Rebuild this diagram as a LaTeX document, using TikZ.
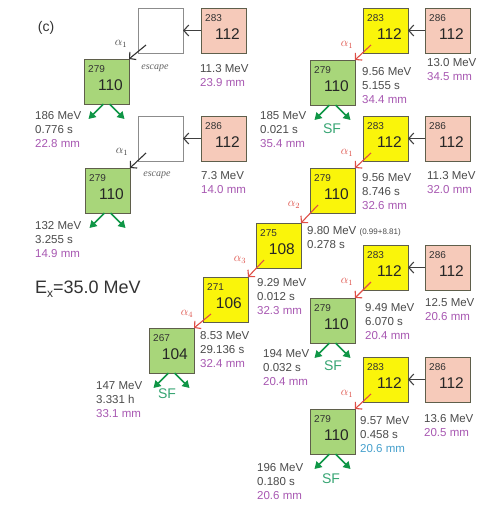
\documentclass[tikz,border=0pt]{standalone}
\usepackage{fontspec}
\setmainfont{Liberation Sans}
\newfontfamily\escfont{Liberation Serif}
\usetikzlibrary{arrows.meta}
\definecolor{nucY}{RGB}{250,245,10}
\definecolor{nucG}{RGB}{168,214,122}
\definecolor{nucP}{RGB}{246,202,186}
\definecolor{edgeC}{RGB}{95,95,75}
\definecolor{txtC}{RGB}{75,75,75}
\definecolor{purp}{RGB}{168,88,178}
\definecolor{cyanC}{RGB}{70,160,205}
\definecolor{alphaC}{RGB}{222,78,70}
\definecolor{sfC}{RGB}{15,150,70}
\definecolor{sfT}{RGB}{55,165,115}
\tikzset{
 nbox/.style={draw=edgeC, line width=0.9pt, minimum width=45pt, minimum height=45pt, inner sep=0pt, outer sep=0pt, anchor=north west},
 wbox/.style={nbox, draw=black!45, fill=white},
 anum/.style={font=\fontsize{10}{10}\selectfont, text=black!80, inner sep=0pt, anchor=base west},
 znum/.style={font=\fontsize{15.5}{15.5}\selectfont, text=black!85, inner sep=0pt, anchor=base east},
 info/.style={font=\fontsize{11.5}{14}\selectfont, text=txtC, align=left, inner sep=0pt, anchor=north west},
 feed/.style={draw=black!75, line width=1.1pt, -{Straight Barb[length=5pt,width=11pt]}},
 alph/.style={draw=alphaC, line width=1.1pt, -{Straight Barb[length=4.5pt,width=10pt]}},
 balph/.style={draw=black!80, line width=1.1pt, -{Straight Barb[length=4.5pt,width=10pt]}},
 sfar/.style={draw=sfC, line width=1.6pt, -{Triangle[length=7pt,width=8pt]}},
 alab/.style={text=alphaC, font=\fontsize{12}{12}\selectfont, inner sep=0pt},
 blab/.style={alab, text=black!75},
 sft/.style={text=sfT, font=\fontsize{14}{14}\selectfont, inner sep=0pt},
 esc/.style={text=black!60, font=\escfont\itshape\fontsize{10}{10}\selectfont, inner sep=0pt},
}
\newcommand{\nuc}[5]{%
 \node[nbox, fill=#3] (#1) at (#2) {};
 \node[anum] (#1A) at ([shift={(4pt,-13pt)}]#1.north west) {#4};
 \node[znum] (#1Z) at ([shift={(-6pt,14pt)}]#1.south east) {#5};
}
\newcommand{\alphaarrow}[4]{% from, to, label name, subscript
 \draw[alph] ([shift={(8pt,8pt)}]#1.south west) -- (#2.north east);
 \node[alab] (#3) at ([shift={(-16pt,8pt)}]#1.south west) {$\alpha_{#4}$};
}
\newcommand{\sfarrows}[1]{%
 \draw[sfar] ([xshift=-3pt]#1.south) -- ([shift={(-18pt,-15pt)}]#1.south);
 \draw[sfar] ([xshift=3pt]#1.south) -- ([shift={(18pt,-15pt)}]#1.south);
}
\begin{document}
\begin{tikzpicture}[x=1pt,y=-1pt]
\fill[white] (0,0) rectangle (491,512);
\useasboundingbox (0,0) rectangle (491,512);

\node[font=\fontsize{14}{14}\selectfont, text=black!80, inner sep=0pt] (lab) at (46,28) {(c)};
\node[font=\fontsize{18}{18}\selectfont, text=black!80, inner sep=0pt, anchor=west] (ex) at (35,289) {E\raisebox{-4.5pt}{\fontsize{12}{12}\selectfont x}=35.0 MeV};

% ---------- left column ----------
\node[wbox] (W1) at (138,8) {};
\nuc{P1}{201,8}{nucP}{283}{112}
\nuc{G1}{84,59}{nucG}{279}{110}
\draw[feed] (P1.west) -- (W1.east);
\draw[balph] ([shift={(8pt,8pt)}]W1.south west) -- (G1.north east);
\node[blab] (aL1) at ([shift={(-17pt,9pt)}]W1.south west) {$\alpha_1$};
\node[esc] (e1) at (155,68) {escape};
\node[info] (iP1) at (200,64) {11.3 MeV\\\textcolor{purp}{23.9 mm}};
\sfarrows{G1}
\node[info] (iG1) at (35,111) {186 MeV\\0.776 s\\\textcolor{purp}{22.8 mm}};

\node[wbox] (W2) at (138,116) {};
\nuc{P2}{201,116}{nucP}{286}{112}
\nuc{G2}{85,168}{nucG}{279}{110}
\draw[feed] (P2.west) -- (W2.east);
\draw[balph] ([shift={(8pt,8pt)}]W2.south west) -- (G2.north east);
\node[blab] (aL2) at ([shift={(-16pt,9pt)}]W2.south west) {$\alpha_1$};
\node[esc] (e2) at (157,175) {escape};
\node[info] (iP2) at (201,171) {7.3 MeV\\\textcolor{purp}{14.0 mm}};
\sfarrows{G2}
\node[info] (iG2) at (35,221) {132 MeV\\3.255 s\\\textcolor{purp}{14.9 mm}};

% ---------- right column, chain 1 ----------
\nuc{Y1}{363,8}{nucY}{283}{112}
\nuc{P3}{425,8}{nucP}{286}{112}
\nuc{G3}{310,60}{nucG}{279}{110}
\draw[feed] (P3.west) -- (Y1.east);
\alphaarrow{Y1}{G3}{a1}{1}
\node[info] (iG3) at (362,67) {9.56 MeV\\5.155 s\\\textcolor{purp}{34.4 mm}};
\node[info] (iP3) at (427,58) {13.0 MeV\\\textcolor{purp}{34.5 mm}};
\sfarrows{G3}
\node[info] (iS3) at (260,111) {185 MeV\\0.021 s\\\textcolor{purp}{35.4 mm}};
\node[sft] (sf3) at (332,129) {SF};

% ---------- chain 2 (long) ----------
\nuc{Y2}{363,116}{nucY}{283}{112}
\nuc{P4}{425,116}{nucP}{286}{112}
\nuc{Y3}{310,168}{nucY}{279}{110}
\nuc{Y4}{256,223}{nucY}{275}{108}
\nuc{Y5}{203,277}{nucY}{271}{106}
\nuc{G4}{149,328}{nucG}{267}{104}
\draw[feed] (P4.west) -- (Y2.east);
\alphaarrow{Y2}{Y3}{a2}{1}
\alphaarrow{Y3}{Y4}{a3}{2}
\alphaarrow{Y4}{Y5}{a4}{3}
\alphaarrow{Y5}{G4}{a5}{4}
\node[info] (iY3) at (362,173) {9.56 MeV\\8.746 s\\\textcolor{purp}{32.6 mm}};
\node[info] (iP4) at (427,171) {11.3 MeV\\\textcolor{purp}{32.0 mm}};
\node[info] (iY4) at (307,226) {9.80 MeV {\fontsize{8}{8}\selectfont (0.99+8.81)}\\0.278 s};
\node[info] (iY5) at (257,278) {9.29 MeV\\0.012 s\\\textcolor{purp}{32.3 mm}};
\node[info] (iG4) at (200,331) {8.53 MeV\\29.136 s\\\textcolor{purp}{32.4 mm}};
\sfarrows{G4}
\node[info] (iS4) at (96,381) {147 MeV\\3.331 h\\\textcolor{purp}{33.1 mm}};
\node[sft] (sf4) at (167,394) {SF};

% ---------- chain 3 ----------
\nuc{Y6}{363,245}{nucY}{283}{112}
\nuc{P5}{425,245}{nucP}{286}{112}
\nuc{G5}{310,298}{nucG}{279}{110}
\draw[feed] (P5.west) -- (Y6.east);
\alphaarrow{Y6}{G5}{a6}{1}
\node[info] (iG5) at (365,303) {9.49 MeV\\6.070 s\\\textcolor{purp}{20.4 mm}};
\node[info] (iP5) at (425,298) {12.5 MeV\\\textcolor{purp}{20.6 mm}};
\sfarrows{G5}
\node[info] (iS5) at (263,349) {194 MeV\\0.032 s\\\textcolor{purp}{20.4 mm}};
\node[sft] (sf5) at (333,366) {SF};

% ---------- chain 4 ----------
\nuc{Y7}{363,357}{nucY}{283}{112}
\nuc{P6}{425,357}{nucP}{286}{112}
\nuc{G6}{310,409}{nucG}{279}{110}
\draw[feed] (P6.west) -- (Y7.east);
\alphaarrow{Y7}{G6}{a7}{1}
\node[info] (iG6) at (360,416) {9.57 MeV\\0.458 s\\\textcolor{cyanC}{20.6 mm}};
\node[info] (iP6) at (424,414) {13.6 MeV\\\textcolor{purp}{20.5 mm}};
\sfarrows{G6}
\node[info] (iS6) at (257,463) {196 MeV\\0.180 s\\\textcolor{purp}{20.6 mm}};
\node[sft] (sf6) at (331,479) {SF};
\end{tikzpicture}
\end{document}
